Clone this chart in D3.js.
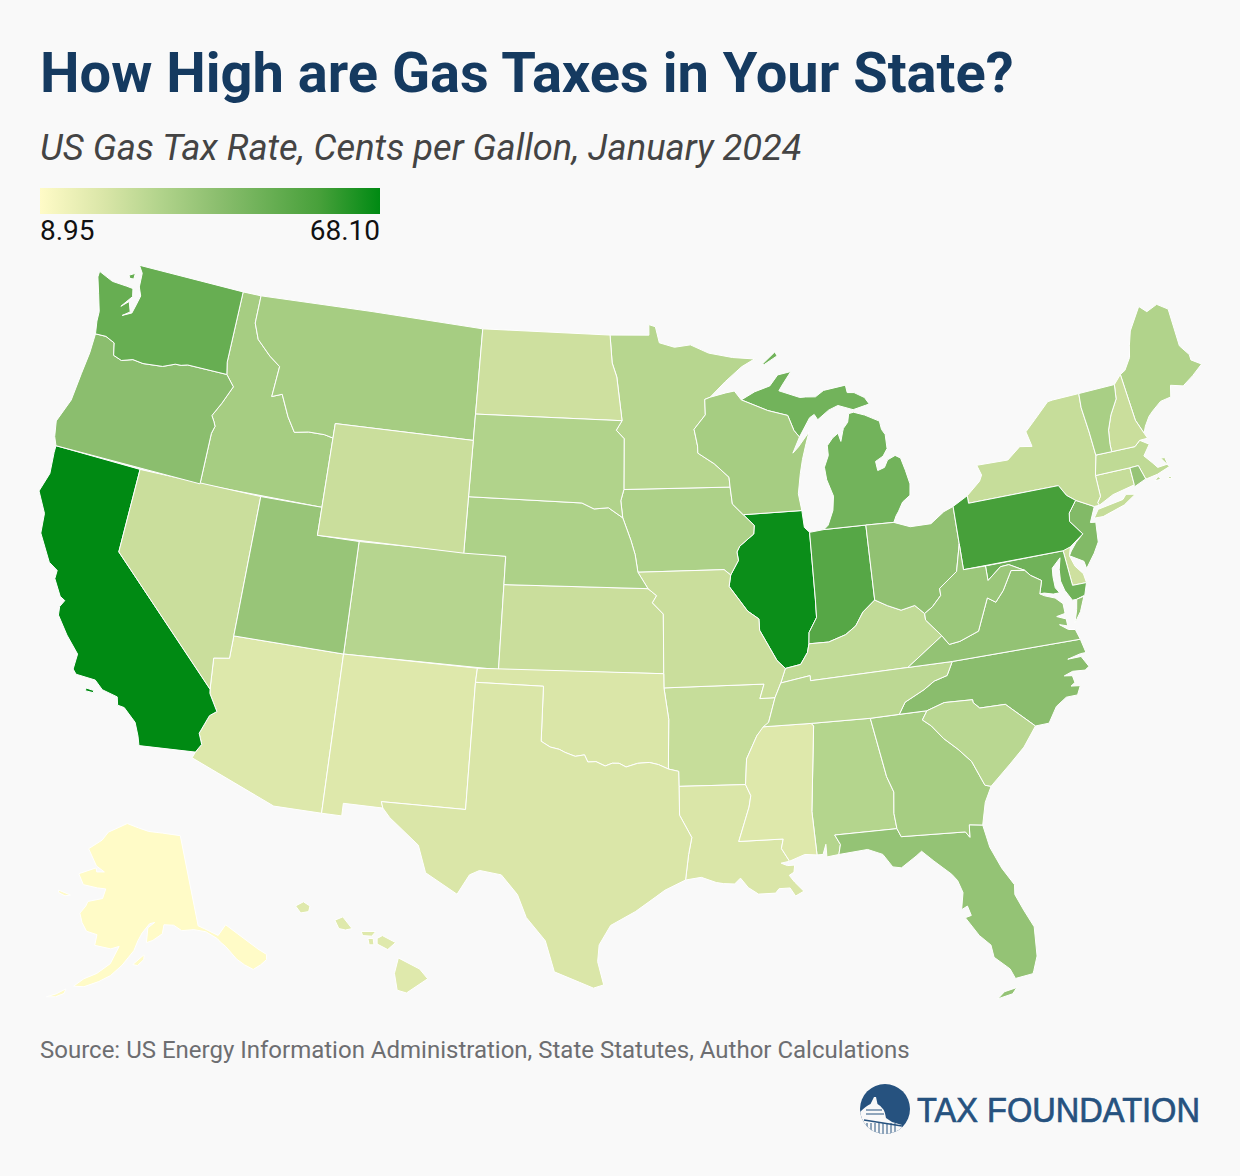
<!DOCTYPE html>
<html><head><meta charset="utf-8">
<script src="https://cdn.jsdelivr.net/npm/d3@7"></script>
<style>html,body{margin:0;padding:0;background:#f9f9f9}svg{display:block}</style>
</head><body><svg id="c" width="1240" height="1176"></svg>
<script>
const stateCodes=["AL","AK","AZ","AR","CA","CO","CT","DE","DC","FL","GA","HI","ID","IL","IN","IA","KS","KY","LA","ME","MD","MA","MI","MN","MS","MO","MT","NE","NV","NH","NJ","NM","NY","NC","ND","OH","OK","OR","PA","RI","SC","SD","TN","TX","UT","VT","VA","WA","WV","WI","WY"];
const gasTaxRates=[29.2,8.95,19,24.8,68.1,28.7,25,23,23.5,37.6,33,18.5,33,66.4,53.7,31,24,26,20,30,47,26.5,46.5,28.6,18.8,24,33,31,24,24,42.4,18.9,25,40.3,23,38.5,20,40,57.6,37,28,30,27.4,20,36.5,32,38,49.4,35.7,33,24];
const colorStopValues=[8.95,20,30,40,57.6,68.1];
const colorStopColors=["#FFFBC7","#DAE6A8","#B1D38B","#8BBE6E","#47A03A","#008A13"];
const legendLabels=["8.95","68.10"];
// State outlines: "west longitude,latitude" pairs
const outlines={
WA:["122.76,49 117.03,49 117.04,46.42 116.92,45.99 118.98,46 119.3,45.93 119.6,45.92 120.2,45.73 121.2,45.65 121.75,45.69 122.3,45.55 122.75,45.65 122.9,46.08 123.4,46.22 123.95,46.2 124.07,46.65 124.1,47 124.4,47.6 124.7,48.17 124.7,48.38 123.9,48.17 123.1,48.15 122.75,48.13 122.65,47.85 123.1,47.4 122.75,47.65 122.55,47.3 122.9,47.1 122.45,47.28 122.35,47.6 122.25,47.95 122.45,48.25 122.5,48.75","123.15,48.55 122.85,48.68 122.85,48.47 123.05,48.45"],
OR:["123.95,46.2 123.4,46.22 122.9,46.08 122.75,45.65 122.3,45.55 121.75,45.69 121.2,45.65 120.2,45.73 119.6,45.92 119.3,45.93 118.98,46 116.92,45.99 116.46,45.61 116.85,44.95 117.2,44.45 117.03,44.25 116.93,44.1 117.03,43.83 117.03,42 124.21,42 124.4,42.3 124.55,42.84 124.15,43.7 124.05,44.7 123.95,45.5"],
CA:["124.21,42 120,42 120,39 114.63,35 114.6,34.85 114.15,34.27 114.43,34.08 114.72,33.4 114.52,33.03 114.72,32.72 117.12,32.53 117.25,32.85 117.5,33.3 118.1,33.72 118.4,33.75 118.5,34.03 119.2,34.15 119.6,34.42 120.47,34.45 120.65,34.6 120.63,35.15 121.3,35.7 121.9,36.3 121.95,36.6 121.8,36.85 122.05,36.95 122.5,37.5 122.5,37.8 122.95,38 123.7,38.9 123.8,39.6 124.35,40.3 124.1,41 124.2,41.75","119.9,34.07 119.55,34.05 119.55,33.97 119.9,33.97"],
NV:["120,42 114.04,42 114.05,36.2 114.74,36.1 114.63,35 120,39"],
ID:["117.03,49 116.05,49 116.05,48 115.72,47.45 114.95,46.95 114.35,46.65 114.45,45.55 113.95,45.7 113.45,44.95 113,44.45 112.3,44.55 111.5,44.55 111.05,44.48 111.05,42 117.03,42 117.03,43.83 116.93,44.1 117.03,44.25 117.2,44.45 116.85,44.95 116.46,45.61 116.92,45.99 117.04,46.42"],
MT:["116.05,49 104.05,49 104.05,45 111.05,45 111.05,44.48 111.5,44.55 112.3,44.55 113,44.45 113.45,44.95 113.95,45.7 114.45,45.55 114.35,46.65 114.95,46.95 115.72,47.45 116.05,48"],
WY:["111.05,45 104.05,45 104.05,41 111.05,41"],
UT:["114.04,42 111.05,42 111.05,41 109.05,41 109.05,37 114.05,37"],
CO:["109.05,41 102.05,41 102.05,37 109.05,37"],
AZ:["114.05,37 109.05,37 109.05,31.33 111.07,31.33 114.81,32.5 114.72,32.72 114.52,33.03 114.72,33.4 114.43,34.08 114.15,34.27 114.6,34.85 114.63,35 114.74,36.1 114.05,36.2"],
NM:["109.05,37 103,37 103.04,36.5 103.06,32 106.62,32 106.53,31.78 108.2,31.78 108.2,31.33 109.05,31.33"],
TX:["103.04,36.5 100,36.5 100,34.56 99.6,34.37 99.2,34.3 98.95,34.2 98.5,34.07 98.1,34.13 97.95,33.88 97.6,33.9 97.2,33.75 96.9,33.85 96.6,33.85 96.3,33.72 95.8,33.85 95.3,33.88 94.9,33.8 94.48,33.64 94.04,33.55 94.04,33.02 94.04,32 93.55,31.2 93.7,30.6 93.75,30.3 93.85,29.7 94.7,29.35 95.1,29.1 95.9,28.6 96.9,28.1 97.35,27.4 97.4,26.8 97.15,25.97 97.55,25.85 98.1,26.05 99.1,26.4 99.5,27.5 100.3,28.3 100.7,29.1 101.4,29.77 102.3,29.88 102.7,29.7 103.15,28.98 104.5,29.65 104.9,30.6 106.2,31.47 106.53,31.78 106.62,32 103.06,32"],
OK:["103,37 94.62,37 94.62,36.5 94.43,35.39 94.48,33.64 94.9,33.8 95.3,33.88 95.8,33.85 96.3,33.72 96.6,33.85 96.9,33.85 97.2,33.75 97.6,33.9 97.95,33.88 98.1,34.13 98.5,34.07 98.95,34.2 99.2,34.3 99.6,34.37 100,34.56 100,36.5 103.04,36.5"],
KS:["102.05,40 95.3,40 94.9,39.75 95.1,39.5 94.6,39.1 94.62,37 102.05,37"],
NE:["104.05,43 98.5,43 97.9,42.8 97.2,42.85 96.5,42.5 96.1,41.7 95.9,41.2 95.77,40.58 95.3,40 102.05,40 102.05,41 104.05,41"],
SD:["104.05,45.94 96.56,45.94 96.85,45.6 96.45,45.3 96.45,43.5 96.6,43.1 96.5,42.5 97.2,42.85 97.9,42.8 98.5,43 104.05,43"],
ND:["104.05,49 97.23,49 97.1,48 96.85,47.5 96.56,45.94 104.05,45.94"],
MN:["97.23,49 95.15,49 95.15,49.38 94.8,49.3 94.6,48.72 93.8,48.55 92.95,48.62 92,48.3 90.75,48.1 89.6,48 90.3,47.75 91.2,47.25 92.02,46.72 92.3,46.65 92.3,46.1 92.9,45.6 92.75,45 92.75,44.75 91.95,44.35 91.25,43.85 91.22,43.5 96.45,43.5 96.45,45.3 96.85,45.6 96.56,45.94 96.85,47.5 97.1,48"],
IA:["96.45,43.5 91.22,43.5 91.15,42.9 90.65,42.5 90.15,42.1 90.2,41.8 90.9,41.4 91.05,41.2 91,40.9 91.4,40.4 91.7,40.6 95.77,40.58 95.9,41.2 96.1,41.7 96.5,42.5 96.6,43.1"],
MO:["95.77,40.58 91.7,40.6 91.4,40.4 91.5,40 90.7,39.1 90.2,38.8 90.2,38.4 89.5,37.3 89.15,37 89.4,36.5 89.7,36 90.37,36 90.15,36.5 94.62,36.5 94.62,37 94.6,39.1 95.1,39.5 94.9,39.75 95.3,40"],
AR:["94.62,36.5 90.15,36.5 90.37,36 89.7,36 90.05,35.15 90.6,34.7 91.1,33.9 91.2,33 94.04,33.02 94.04,33.55 94.48,33.64 94.43,35.39"],
LA:["94.04,33.02 91.2,33 91,32.6 91.1,32.2 91.6,31 89.75,31 89.85,30.67 89.55,30.2 89.9,30.15 89.65,30.05 89.35,30.05 89.4,29.8 89.6,29.7 89.4,29.45 89.05,29.1 89.4,28.95 89.6,29.25 90.05,29.25 90.2,29.1 90.9,29.1 91.3,29.35 91.6,29.7 91.85,29.5 92.3,29.53 92.6,29.58 93.2,29.78 93.85,29.7 93.75,30.3 93.7,30.6 93.55,31.2 94.04,32"],
MS:["90.3,35 88.2,35 88.1,34.9 88.47,31.9 88.4,30.35 88.9,30.4 89.55,30.2 89.85,30.67 89.75,31 91.6,31 91.1,32.2 91,32.6 91.2,33 91.1,33.9 90.6,34.7"],
AL:["88.2,35 85.6,34.98 85.18,32.87 84.95,32.3 85.05,31.55 85,31 87.6,31 87.4,30.65 87.5,30.3 88,30.25 88,30.7 88.15,30.35 88.4,30.35 88.47,31.9 88.1,34.9"],
FL:["87.6,31 85,31 84.86,30.7 82.2,30.57 82.05,30.36 82,30.8 81.45,30.72 81.3,29.9 80.95,29.1 80.55,28.45 80.6,28.1 80.35,27.5 80.05,26.85 80.13,25.8 80.35,25.3 80.4,25.2 81.1,25.13 81.25,25.5 81.8,26 81.85,26.45 82.25,26.85 82.7,27.55 82.45,27.6 82.55,27.95 82.8,27.85 82.65,28.45 82.8,28.9 83,29.15 83.65,29.7 84.1,30.1 84.35,29.95 85,29.6 85.35,29.67 85.7,30.15 86.3,30.38 87.5,30.3 87.4,30.65","81.9,24.5 81.3,24.6 81.1,24.8 81.6,24.72"],
GA:["85.6,34.98 83.1,35 83.35,34.7 83,34.45 82.55,33.95 82,33.5 81.5,33 81.1,32.1 80.85,32.03 81.2,31.5 81.45,30.72 82,30.8 82.05,30.36 82.2,30.57 84.86,30.7 85,31 85.05,31.55 84.95,32.3 85.18,32.87"],
SC:["83.1,35 82.3,35.2 81.05,35.15 81.05,35.05 80.8,34.82 79.67,34.8 78.55,33.86 79.2,33.2 79.9,32.7 80.85,32.03 81.1,32.1 81.5,33 82,33.5 82.55,33.95 83,34.45 83.35,34.7"],
NC:["84.32,35 83.1,35 82.3,35.2 81.05,35.15 81.05,35.05 80.8,34.82 79.67,34.8 78.55,33.86 77.95,33.87 77.5,34.4 77,34.65 76.5,34.65 76.3,34.95 76.7,35 76.5,35.1 76.55,35.35 76.9,35.4 76.5,35.5 75.95,35.45 75.75,35.55 76,35.95 76.6,35.95 76,36.05 75.75,36.05 75.87,36.55 81.68,36.59 82,36.13 82.6,36 83.1,35.75 84,35.4"],
TN:["90.3,35 88.2,35 85.6,34.98 84.32,35 84,35.4 83.1,35.75 82.6,36 82,36.13 81.68,36.59 83.68,36.6 88.07,36.5 88.07,36.68 89.4,36.5 89.7,36 90.05,35.15"],
KY:["89.4,36.5 88.07,36.68 88.07,36.5 83.68,36.6 81.97,37.54 82.6,38.17 82.6,38.4 83,38.73 83.65,38.63 84.25,38.85 84.8,39.1 85.4,38.73 85.8,38.27 86.3,38 87.1,37.8 88,37.8 88.1,37.5 88.45,37.1 89.15,37"],
VA:["83.68,36.6 81.68,36.59 75.87,36.55 76,36.92 76.3,36.97 76.65,37.2 76.3,37.1 76.3,37.35 76.7,37.5 76.3,37.55 76.3,37.9 76.6,38.15 77.05,38.3 77.25,38.4 77.05,38.85 77.5,39.1 77.73,39.32 78.35,39.4 78.87,38.76 79.3,38.4 79.65,38.6 80.3,37.5 81.2,37.25 81.7,37.2 81.97,37.54","75.95,37.15 75.75,37.6 75.65,37.95 75.3,38 75.6,37.5"],
WV:["82.6,38.17 81.97,37.54 81.7,37.2 81.2,37.25 80.3,37.5 79.65,38.6 79.3,38.4 78.87,38.76 78.35,39.4 77.73,39.32 78.4,39.62 78.8,39.6 79.48,39.2 79.48,39.72 80.52,39.72 80.52,40.64 80.85,39.7 81.75,39.2 81.75,38.95 82.2,38.6 82.6,38.4"],
MD:["79.48,39.72 75.79,39.72 75.7,38.46 75.05,38.45 75.25,38.03 75.65,37.95 75.85,37.95 76.1,38.35 76.2,38.7 76.15,39.1 76,39.5 76.45,39.2 76.5,38.9 76.5,38.5 76.35,38.3 76.65,38.3 77.05,38.4 77.25,38.4 77.05,38.85 77.5,39.1 77.73,39.32 78.4,39.62 78.8,39.6 79.48,39.2"],
DC:["77.12,38.93 77.04,39 76.91,38.89 77.04,38.79"],
DE:["75.79,39.72 75.6,39.83 75.42,39.8 75.55,39.5 75.4,39.1 75.1,38.78 75.05,38.45 75.7,38.46"],
PA:["80.52,41.98 79.76,42.27 79.76,42 75.35,42 75.07,41.6 74.7,41.36 75.13,40.97 75.2,40.68 74.72,40.15 75.42,39.8 75.79,39.72 80.52,39.72"],
NJ:["74.7,41.36 73.9,41 74.25,40.48 74,40.45 74.1,39.75 74.4,39.4 74.9,38.93 74.95,39.2 75.55,39.5 75.42,39.65 75.13,39.9 74.72,40.15 75.2,40.68 75.13,40.97"],
NY:["79.76,42.27 79.05,42.7 78.9,42.9 79.05,43.27 77.5,43.25 76.8,43.63 76.2,43.55 76.35,44.1 75.8,44.45 74.97,44.98 74.7,45 73.35,45.01 73.4,44.5 73.3,43.6 73.25,42.75 73.5,42.05 73.5,41.3 73.7,41.1 73.65,41 73.9,41 74.7,41.36 75.07,41.6 75.35,42 79.76,42","74.03,40.6 73.75,40.87 72.5,41 72.3,41.15 71.87,41.07 72.5,40.8 73.6,40.58"],
CT:["73.5,42.05 71.8,42.02 71.8,41.4 72.9,41.25 73.65,41 73.7,41.1 73.5,41.3"],
RI:["71.8,42.02 71.38,42.02 71.2,41.5 71.85,41.32 71.8,41.4"],
MA:["73.5,42.05 73.25,42.75 71.3,42.7 71,42.87 70.6,42.65 71,42.3 70.7,42 70.5,41.78 70,41.8 70.05,42.05 70.25,42.07 69.95,41.7 70.6,41.55 71.1,41.5 71.2,41.5 71.38,42.02 71.8,42.02","70.2,41.3 69.97,41.28 70.05,41.37","70.8,41.35 70.5,41.35 70.6,41.47"],
VT:["73.35,45.01 71.5,45.01 71.6,44.5 72.05,44 72.35,43.5 72.45,43 72.46,42.73 73.25,42.75 73.3,43.6 73.4,44.5"],
NH:["71.5,45.01 71.08,45.3 70.95,43.6 70.7,43.07 70.6,42.87 71,42.87 71.3,42.7 72.46,42.73 72.45,43 72.35,43.5 72.05,44 71.6,44.5"],
ME:["71.08,45.3 70.8,45.4 70.4,45.8 70.25,46.2 70,46.7 69.23,47.46 68.9,47.2 68.3,47.35 67.8,47.07 67.8,45.7 67.45,45.3 67.45,45.1 67,44.85 67.6,44.55 68.2,44.3 68.8,44.45 68.95,44.05 69.5,44 70,43.75 70.25,43.6 70.55,43.3 70.7,43.07 70.95,43.6"],
MI:["84.8,41.76 83.45,41.73 83.3,41.95 83.15,42.1 82.9,42.4 82.5,42.6 82.42,43 82.55,43.5 82.7,43.95 82.95,44.07 83.35,43.95 83.55,43.7 83.9,43.62 83.95,43.95 83.55,44.1 83.3,44.35 83.3,44.85 83.45,45.05 83.5,45.35 84.2,45.63 84.75,45.78 85,45.75 85.1,45.45 85.35,45.25 85.4,45.15 85.55,44.8 85.65,45.1 85.95,44.95 86.25,44.7 86.25,44.35 86.5,43.95 86.45,43.5 86.2,42.9 86.3,42.4 86.6,41.9 86.82,41.76","90.42,46.57 89.7,46.83 88.9,47 88.45,47.37 87.75,47.45 88.25,47 88.45,46.8 87.4,46.5 87.1,46.5 86.6,46.47 86.15,46.67 85,46.77 84.95,46.5 84.6,46.47 84.1,46.25 83.9,46 84.1,45.97 84.75,45.87 85.5,46.08 86,45.95 86.6,45.65 86.75,45.85 87,45.75 87.6,45.1 87.85,45.35 88.1,45.9 89.1,46.13","89.2,47.8 88.5,48.2 88.4,48.05 89.1,47.78"],
WI:["92.02,46.72 91.2,46.85 90.75,46.9 90.42,46.57 89.1,46.13 88.1,45.9 87.85,45.35 87.6,45.1 88,44.55 87.7,44.75 87.1,45.25 87.3,44.85 87.55,44.3 87.72,43.8 87.9,43.1 87.8,42.5 90.65,42.5 91.15,42.9 91.22,43.5 91.25,43.85 91.95,44.35 92.75,44.75 92.75,45 92.9,45.6 92.3,46.1 92.3,46.65"],
IL:["87.8,42.5 90.65,42.5 90.15,42.1 90.2,41.8 90.9,41.4 91.05,41.2 91,40.9 91.4,40.4 91.5,40 90.7,39.1 90.2,38.8 90.2,38.4 89.5,37.3 89.15,37 88.45,37.1 88.1,37.5 88,37.8 87.95,38.2 87.55,38.7 87.53,39.35 87.52,41.71 87.75,41.9"],
IN:["87.52,41.71 86.82,41.76 84.8,41.76 84.8,39.1 85.4,38.73 85.8,38.27 86.3,38 87.1,37.8 88,37.8 87.95,38.2 87.55,38.7 87.53,39.35"],
OH:["84.8,41.76 83.45,41.73 82.7,41.5 81.7,41.5 81,41.85 80.52,41.98 80.52,40.64 80.85,39.7 81.75,39.2 81.75,38.95 82.2,38.6 82.6,38.4 83,38.73 83.65,38.63 84.25,38.85 84.8,39.1"],
AK:["141,69.65 141,60.3 139.9,59.9 137.5,58.9 135.5,59.75 133.7,58.5 131,56.4 129.9,55.6 130.2,55.1 131.5,54.8 133,54.6 134.2,55.3 135.3,56.1 136.6,57.6 137.4,58.2 137.8,58.6 139.7,59.55 142,60 144.5,60.1 146,60.75 148,60.9 148.5,60 150.5,59.4 151.8,59.2 151.4,60.7 149.9,61.2 151,61.1 152.6,60.2 153.5,59.4 154.3,58.4 156.5,56.9 158.5,55.8 160.5,55.1 163,54.4 164.8,54.3 163.2,55.2 161,55.9 158.7,57 157.2,58.8 158.8,58.5 162,58.7 161.8,59.8 164,60 165.2,60.8 166,61.7 165,62.5 164.7,63 161.5,63.5 161,64.5 163,64.5 166.4,64.6 168,65.6 164,66.5 163.7,66.1 161.8,66.2 164,66.7 166.8,68.3 163.5,69.4 162,70.3 159,70.9 156.5,71.35 153,70.9 150,70.5 146,70.2","171.8,63.5 168.8,63.3 170,63.1 171.5,63.25","154.5,57 152.3,58 152.4,57.5 153.6,56.9","169,52.7 167.5,53.2 166,53.9 166.2,53.4 167.5,52.9"],
HI:["155.9,20.25 155.1,19.85 154.8,19.5 155.6,19 155.95,19.1 156.05,19.7","156.7,20.95 156.5,21.05 156,20.8 156.3,20.55 156.7,20.75","158.3,21.6 158,21.72 157.65,21.3 157.9,21.25 158.15,21.3","159.8,22.1 159.5,22.25 159.25,22.1 159.3,21.9 159.6,21.85","157.3,21.2 156.75,21.2 156.9,21.03 157.25,21.05","157.05,20.95 156.85,20.95 156.82,20.72 157,20.72"]
};

const svg=d3.select("#c");
const font="Roboto, sans-serif";
svg.append("rect").attr("width",1240).attr("height",1176).attr("fill","#f9f9f9");
svg.append("text").text("How High are Gas Taxes in Your State?").attr("x",40).attr("y",92).attr("font-family",font).attr("font-weight",700).attr("font-size",56).attr("fill","#153a60");
svg.append("text").text("US Gas Tax Rate, Cents per Gallon, January 2024").attr("x",40).attr("y",160).attr("font-family",font).attr("font-style","italic").attr("font-size",36.3).attr("fill","#444");

const color=d3.scaleLinear().domain(colorStopValues).range(colorStopColors);
const defs=svg.append("defs");
const grad=defs.append("linearGradient").attr("id","lg");
const lx=d3.scaleLinear().domain([colorStopValues[0],colorStopValues[colorStopValues.length-1]]);
grad.selectAll("stop").data(colorStopValues).join("stop").attr("offset",d=>lx(d)).attr("stop-color",d=>color(d));
svg.append("rect").attr("x",40).attr("y",188).attr("width",340).attr("height",26).attr("fill","url(#lg)");
svg.append("text").text(legendLabels[0]).attr("x",40).attr("y",240).attr("font-family",font).attr("font-size",28).attr("fill","#111");
svg.append("text").text(legendLabels[1]).attr("x",380).attr("y",240).attr("text-anchor","end").attr("font-family",font).attr("font-size",28).attr("fill","#111");

function ring(s){
  const r=s.split(" ").map(p=>{const [a,b]=p.split(",").map(Number);return [-a,b];});
  r.push(r[0]);
  let poly={type:"Polygon",coordinates:[r]};
  if(d3.geoArea(poly)>2*Math.PI) r.reverse();
  return [r];
}
const features=stateCodes.map((c,i)=>({type:"Feature",id:c,properties:{rate:gasTaxRates[i]},geometry:{type:"MultiPolygon",coordinates:outlines[c].map(ring)}}));
const projection=d3.geoAlbersUsa().scale(1612).translate([620,625.6]);
const path=d3.geoPath(projection);
svg.append("g").selectAll("path").data(features).join("path").attr("d",path).attr("fill",d=>color(d.properties.rate)).attr("stroke","#fff").attr("stroke-width",1).attr("stroke-linejoin","round");

svg.append("text").text("Source: US Energy Information Administration, State Statutes, Author Calculations").attr("x",40).attr("y",1058).attr("font-family",font).attr("font-size",24).attr("fill","#6d6e71");

// logo
const logo=svg.append("g");
const blue="#26527f";
logo.append("clipPath").attr("id","lc").append("circle").attr("cx",885).attr("cy",1109).attr("r",25);
logo.append("circle").attr("cx",885).attr("cy",1109).attr("r",25).attr("fill",blue);
const inner=logo.append("g").attr("clip-path","url(#lc)");
inner.append("path").attr("d","M874,1097 L876,1097 L877.5,1104 Q885,1108 886,1118 L892,1122 L902,1125 L902,1140 L860,1140 L860,1112 Q866,1106 870.5,1104 Z").attr("fill","#f9f9f9");
inner.selectAll("line").data(d3.range(867,897,4)).join("line").attr("x1",d=>d).attr("x2",d=>d).attr("y1",1123).attr("y2",1134).attr("stroke",blue).attr("stroke-width",1);
inner.append("path").attr("d","M864,1120 L902,1126").attr("stroke",blue).attr("stroke-width",1.5).attr("fill","none");
inner.append("path").attr("d","M866,1110 H882 M866,1114 H884").attr("stroke",blue).attr("stroke-width",1).attr("fill","none");
logo.append("text").text("TAX FOUNDATION").attr("x",917).attr("y",1122).attr("font-family","'Liberation Sans',Arial,sans-serif").attr("font-size",35).attr("textLength",283).attr("lengthAdjust","spacingAndGlyphs").attr("fill",blue).attr("stroke",blue).attr("stroke-width",0.7);
</script></body></html>
